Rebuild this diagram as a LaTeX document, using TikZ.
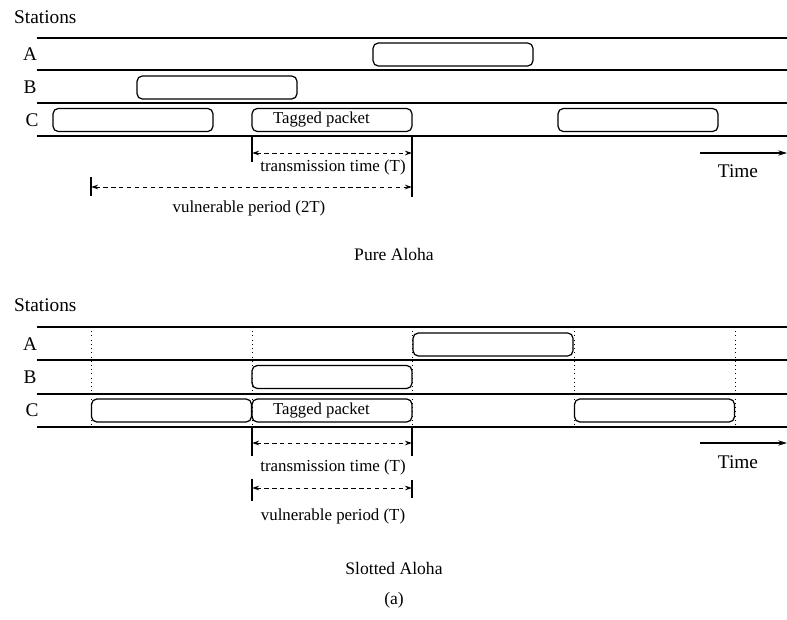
\documentclass[tikz,border=0pt]{standalone}
\usepackage{fontspec}
\setmainfont{Liberation Serif}
\usetikzlibrary{arrows.meta}

\tikzset{
  packet/.style={draw, rounded corners=3pt, line width=0.7pt, minimum width=3.2cm,
    minimum height=0.46cm, inner sep=0pt, font=\fontsize{9.5}{11}\selectfont},
  station/.style={font=\fontsize{11}{13}\selectfont},
  small/.style={font=\fontsize{9.6}{11}\selectfont},
  title/.style={font=\fontsize{10}{12}\selectfont},
  track/.style={line width=0.6pt},
  slot/.style={line width=0.4pt, dotted},
  tick/.style={line width=0.6pt},
  span/.style={line width=0.5pt, dash pattern=on 2.5pt off 2pt,
    {Stealth[length=4pt,width=2.6pt,open]}-{Stealth[length=4pt,width=2.6pt]}},
}

\begin{document}
\begin{tikzpicture}[x=0.02cm, y=-0.02cm]
  \useasboundingbox (0,0) rectangle (787,619);

  % ---------- pure aloha ----------
  \node[station, anchor=west] (st1) at (8,17) {Stations};
  \foreach \y in {38,70,103,136}
    \draw[track] (37,\y) -- (787,\y);
  \node[station] (a1) at (30,54) {A};
  \node[station] (b1) at (30,87) {B};
  \node[station] (c1) at (32,120) {C};

  \node[packet] (pa1) at (453,54.5) {};
  \node[packet] (pb1) at (217,87.5) {};
  \node[packet] (pc1) at (133,120) {};
  \node[packet] (tag1) at (332,120) {\hspace*{-12pt}\raisebox{-1pt}{Tagged packet}};
  \node[packet] (pc3) at (638,120) {};

  \coordinate (t1a) at (252,137);  \coordinate (t1b) at (252,162);
  \coordinate (t2a) at (412,137);  \coordinate (t2b) at (412,197);
  \coordinate (t3a) at (91,177);   \coordinate (t3b) at (91,196);
  \draw[tick] (t1a) -- (t1b);
  \draw[tick] (t2a) -- (t2b);
  \draw[tick] (t3a) -- (t3b);
  \coordinate (s1a) at (252,153);  \coordinate (s1b) at (412,153);
  \coordinate (s2a) at (91,187);   \coordinate (s2b) at (412,187);
  \draw[span] (s1a) -- (s1b);
  \draw[span] (s2a) -- (s2b);
  \node[small] (tt1) at (333,167) {transmission time (T)};
  \node[small] (vp1) at (249,208) {vulnerable period (2T)};

  \coordinate (ta1) at (700,153);  \coordinate (tb1) at (787,153);
  \draw[tick, -{Stealth[length=5pt,width=3pt]}] (ta1) -- (tb1);
  \node[station] (time1) at (738,171) {Time};
  \node[title] (pure) at (394,254) {Pure Aloha};

  % ---------- slotted aloha ----------
  \node[station, anchor=west] (st2) at (8,305) {Stations};
  \foreach \x in {91,252,412,574,735}
    \draw[slot] (\x,327) -- (\x,427);
  \foreach \y in {327,360,394,427}
    \draw[track] (37,\y) -- (787,\y);
  \node[station] (a2) at (30,344) {A};
  \node[station] (b2) at (30,377) {B};
  \node[station] (c2) at (32,410) {C};

  \node[packet] (pa2) at (493,344.5) {};
  \node[packet] (pb2) at (332,377) {};
  \node[packet] (pc21) at (171.5,410.5) {};
  \node[packet] (tag2) at (332,410.5) {\hspace*{-12pt}\raisebox{-1pt}{Tagged packet}};
  \node[packet] (pc23) at (654.5,410.5) {};

  \coordinate (u1a) at (252,427);  \coordinate (u1b) at (252,456);
  \coordinate (u2a) at (412,427);  \coordinate (u2b) at (412,456);
  \coordinate (u3a) at (252,479);  \coordinate (u3b) at (252,501);
  \coordinate (u4a) at (412,480);  \coordinate (u4b) at (412,498);
  \foreach \p in {u1,u2,u3,u4}
    \draw[tick] (\p a) -- (\p b);
  \coordinate (r1a) at (252,443);  \coordinate (r1b) at (412,443);
  \coordinate (r2a) at (252,488);  \coordinate (r2b) at (412,488);
  \draw[span] (r1a) -- (r1b);
  \draw[span] (r2a) -- (r2b);
  \node[small] (tt2) at (333,467) {transmission time (T)};
  \node[small] (vp2) at (333,516) {vulnerable period (T)};

  \coordinate (ta2) at (700,443);  \coordinate (tb2) at (787,443);
  \draw[tick, -{Stealth[length=5pt,width=3pt]}] (ta2) -- (tb2);
  \node[station] (time2) at (738,462) {Time};
  \node[title] (slotted) at (394,568) {Slotted Aloha};

  \node[title] (cap) at (394,600) {(a)};
\end{tikzpicture}
\end{document}
